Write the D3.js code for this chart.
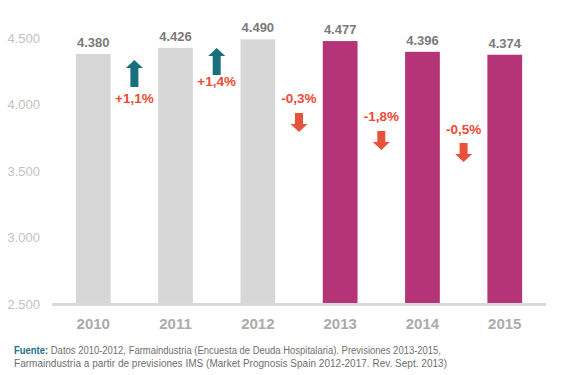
<!DOCTYPE html>
<html>
<head>
<meta charset="utf-8">
<script src="https://cdn.jsdelivr.net/npm/d3@7"></script>
<style>
  body { margin: 0; background: #fff; }
  svg { display: block; font-family: "Liberation Sans", Arial, sans-serif; }
</style>
</head>
<body>
<div id="chart"></div>
<script>
// Daten
const years = ["2010", "2011", "2012", "2013", "2014", "2015"];
const values = [4380, 4426, 4490, 4477, 4396, 4374];
const valueLabels = ["4.380", "4.426", "4.490", "4.477", "4.396", "4.374"];
const forecast = [false, false, false, true, true, true];
const changes = ["+1,1%", "+1,4%", "-0,3%", "-1,8%", "-0,5%"];
const yTicks = [2500, 3000, 3500, 4000, 4500];
const yTickLabels = ["2.500", "3.000", "3.500", "4.000", "4.500"];

// Layout der Pfeile (Beschriftung mittig, vertikal von Hand gesetzt wie im Original)
const changeLabelY = [98, 81, 98, 116, 129];
const arrowTopY = [60, 48, 113, 131, 143];

const width = 561;
const height = 375;

const x = d3.scaleBand()
  .domain(years)
  .range([52, 546])
  .paddingInner(0.578)
  .paddingOuter(0.29);

const y = d3.scaleLinear()
  .domain([2500, 4500])
  .range([304, 38]);

const svg = d3.select("#chart").append("svg")
  .attr("width", width)
  .attr("height", height)
  .attr("viewBox", [0, 0, width, height]);

// Y-Achse (nur Beschriftungen)
svg.append("g")
  .selectAll("text")
  .data(yTicks)
  .join("text")
  .attr("x", 40)
  .attr("y", d => y(d))
  .attr("dy", "0.36em")
  .attr("text-anchor", "end")
  .attr("fill", "#c2c2c2")
  .attr("font-size", 13)
  .text((d, i) => yTickLabels[i]);

// Balken
svg.append("g")
  .selectAll("rect")
  .data(values)
  .join("rect")
  .attr("x", (d, i) => x(years[i]))
  .attr("y", d => y(d))
  .attr("width", x.bandwidth())
  .attr("height", d => y(2500) - y(d))
  .attr("fill", (d, i) => forecast[i] ? "#b53377" : "#d7d7d7");

// Grundlinie
svg.append("line")
  .attr("x1", 52)
  .attr("x2", 546)
  .attr("y1", y(2500) + 0.5)
  .attr("y2", y(2500) + 0.5)
  .attr("stroke", "#d9d9d9")
  .attr("stroke-width", 3);

// Wertbeschriftungen
svg.append("g")
  .selectAll("text")
  .data(values)
  .join("text")
  .attr("x", (d, i) => x(years[i]) + x.bandwidth() / 2)
  .attr("y", d => y(d) - 7)
  .attr("text-anchor", "middle")
  .attr("fill", "#7a7a7a")
  .attr("font-size", 13)
  .attr("font-weight", "bold")
  .text((d, i) => valueLabels[i]);

// X-Achse
svg.append("g")
  .selectAll("text")
  .data(years)
  .join("text")
  .attr("x", d => x(d) + x.bandwidth() / 2)
  .attr("y", 329)
  .attr("text-anchor", "middle")
  .attr("fill", "#ababab")
  .attr("font-size", 15)
  .attr("font-weight", "bold")
  .text(d => d);

// Veränderungen mit Pfeilen
const arrowUp = "M0,0 L8.5,-8 L17,0 L12.5,0 L12.5,19 L4.5,19 L4.5,0 Z";
const arrowDown = "M4.5,0 L12.5,0 L12.5,11 L17,11 L8.5,19 L0,11 L4.5,11 Z";

changes.forEach((c, i) => {
  const cx = (x(years[i]) + x.bandwidth() + x(years[i + 1])) / 2;
  const up = values[i + 1] > values[i];
  svg.append("text")
    .attr("x", cx)
    .attr("y", changeLabelY[i])
    .attr("dy", "0.36em")
    .attr("text-anchor", "middle")
    .attr("fill", "#ef4a33")
    .attr("font-size", 13.5)
    .attr("font-weight", "bold")
    .text(c);
  svg.append("path")
    .attr("d", up ? arrowUp : arrowDown)
    .attr("transform", up
      ? `translate(${cx - 8.5},${arrowTopY[i] + 8})`
      : `translate(${cx - 8.5},${arrowTopY[i]})`)
    .attr("fill", up ? "#1a6f7c" : "#e8523a");
});

// Quelle
const src = svg.append("g").attr("font-size", 10).attr("fill", "#6f6f6f");
const l1 = src.append("text").attr("x", 14).attr("y", 354)
  .attr("textLength", 427).attr("lengthAdjust", "spacingAndGlyphs");
l1.append("tspan").attr("fill", "#1d6f8c").attr("font-weight", "bold").text("Fuente:");
l1.append("tspan").text(" Datos 2010-2012,  Farmaindustria (Encuesta de Deuda Hospitalaria). Previsiones 2013-2015,");
src.append("text").attr("x", 14).attr("y", 367)
  .attr("textLength", 433).attr("lengthAdjust", "spacing")
  .text("Farmaindustria   a partir de previsiones IMS (Market Prognosis Spain 2012-2017. Rev. Sept. 2013)");
</script>
</body>
</html>
